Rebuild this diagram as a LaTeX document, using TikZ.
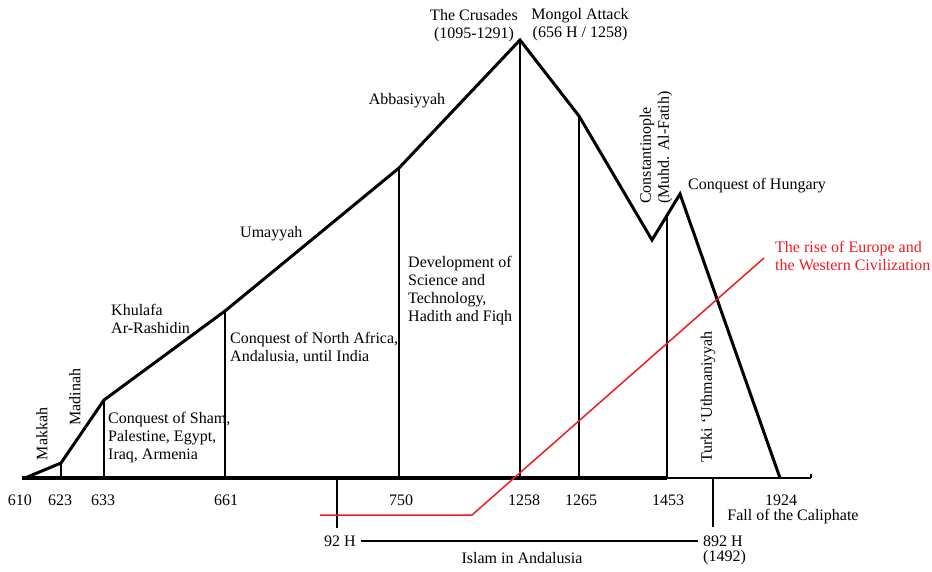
\documentclass[tikz,border=0pt]{standalone}
\usepackage{fontspec}
\setmainfont{Liberation Serif}
\usetikzlibrary{positioning}
\definecolor{risered}{RGB}{237,28,36}

\begin{document}
\begin{tikzpicture}[
  x=1pt, y=-1pt,
  curve/.style={line width=3pt, line join=miter},
  era/.style={line width=1.8pt},
  lbl/.style={inner sep=0pt, align=left, font=\fontsize{16}{18}\selectfont},
  year/.style={lbl, anchor=center},
  vlbl/.style={lbl, rotate=90},
  redline/.style={risered, line width=1.5pt}
]
\useasboundingbox (0,0) rectangle (932,571);

% Main curve: rise and fall of the Caliphate
\coordinate (p610) at (25,478);
\coordinate (p623) at (61,463);
\coordinate (p633) at (104,400);
\coordinate (p661) at (225,311);
\coordinate (p750) at (399,168);
\coordinate (p1258) at (520,40);
\coordinate (p1265) at (579,116);
\coordinate (valley) at (652,240);
\coordinate (hungary) at (680,194);
\coordinate (p1453) at (667,215);
\coordinate (p1924) at (780,478);
\draw[curve] (p610) -- (p623) -- (p633) -- (p661) -- (p750) -- (p1258)
  -- (p1265) -- (valley) -- (hungary) -- (p1924);

% Time axis
\coordinate (axisL) at (22,478);
\coordinate (axisM) at (667,478);
\coordinate (axisR) at (811,478);
\draw[line width=4.5pt] (axisL) -- (axisM);
\draw[line width=2.5pt] (axisM) -- (axisR);
\draw[line width=2pt] (axisR) -- ++(0,-4);

% Vertical era lines
\foreach \p in {p623,p633,p661,p750,p1258,p1265,p1453}
  \draw[era] (\p) -- (\p |- axisL);

% Years
\node[year] (y610) at (20,500) {610};
\node[year] (y623) at (60,500) {623};
\node[year] (y633) at (103,500) {633};
\node[year] (y661) at (226,500) {661};
\node[year] (y750) at (401,500) {750};
\node[year] (y1258) at (524,500) {1258};
\node[year] (y1265) at (581,500) {1265};
\node[year] (y1453) at (668,500) {1453};
\node[year] (y1924) at (781,500) {1924};
\node[year] (fall) at (793,517) {Fall of the Caliphate};

% Islam in Andalusia
\coordinate (a92) at (337,528);
\coordinate (a892) at (713,527);
\draw[era, line width=1.5pt] (a92) -- (a92 |- axisL);
\draw[era, line width=1.5pt] (a892) -- (a892 |- axisL);
\node[year, inner sep=5pt] (h92) at (340,541) {92 H};
\node[lbl, anchor=west, inner sep=5pt] (h892) at (698,541) {892 H};
\node[lbl, anchor=north west] (h1492) at (703,550) {(1492)};
\draw[line width=1.3pt] (h92.east) -- (h892.west);
\node[year] (andalusia) at (522,558) {Islam in Andalusia};

% Rise of Europe
\coordinate (r0) at (320,515);
\coordinate (r1) at (472,515);
\coordinate (r2) at (764,258);
\draw[redline] (r0) -- (r1) -- (r2);
\node[lbl, anchor=west, text=risered] (europe) at (775,256)
  {The rise of Europe and\\the Western Civilization};

% Period labels
\node[vlbl] (makkah) at (42,434) {Makkah};
\node[vlbl] (madinah) at (75,397) {Madinah};
\node[lbl, anchor=west] (khulafa) at (111,319) {Khulafa\\Ar-Rashidin};
\node[lbl, anchor=west] (umayyah) at (240,234) {Umayyah};
\node[year] (abbas) at (407,101) {Abbasiyyah};
\node[year, align=center] (crusades) at (474,26) {The Crusades\\(1095-1291)};
\node[year, align=center] (mongol) at (580,25) {Mongol Attack\\(656 H / 1258)};
\node[vlbl, anchor=west] (constant) at (656,204) {Constantinople\\(Muhd. Al-Fatih)};
\node[lbl, anchor=west] (hungaryl) at (688,186) {Conquest of Hungary};
\node[vlbl] (turki) at (708,397) {Turki `Uthmaniyyah};

% Achievements
\node[lbl, anchor=west] (sham) at (108,438)
  {Conquest of Sham,\\Palestine, Egypt,\\Iraq, Armenia};
\node[lbl, anchor=west] (nafrica) at (230,348)
  {Conquest of North Africa,\\Andalusia, until India};
\node[lbl, anchor=west] (science) at (408,291)
  {Development of\\Science and\\Technology,\\Hadith and Fiqh};

\end{tikzpicture}
\end{document}
